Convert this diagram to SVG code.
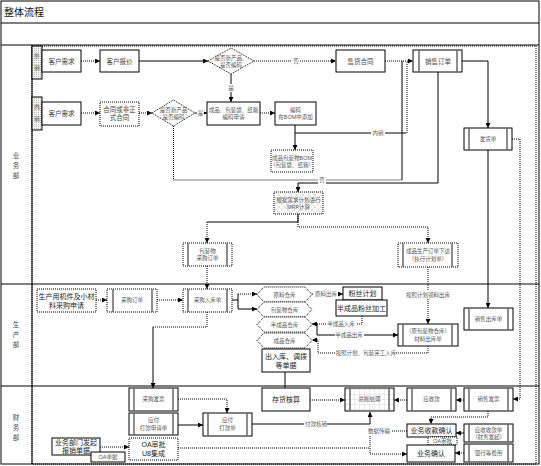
<svg xmlns="http://www.w3.org/2000/svg" width="541" height="466" viewBox="0 0 541 466">
<style>
text{font-family:"Liberation Sans","Noto Sans CJK SC",sans-serif;text-anchor:middle}
.n{fill:#fff;stroke:#000;stroke-width:1}
.nd{fill:#fff;stroke:#000;stroke-width:1;stroke-dasharray:1 1}
.in{stroke:#666;stroke-width:1.5}
.t{font-size:5.5px;fill:#555}
.tm{font-size:6.5px;fill:#444}
.tb{font-size:7px;fill:#222}
.c{fill:none;stroke:#000;stroke-width:1}
.d{stroke-dasharray:1 1}
.lb{font-size:5.5px;fill:#555}
.bg{fill:#fff}
.ln{stroke:#000;stroke-width:1;fill:none}
</style>
<defs>
<marker id="a" markerWidth="5" markerHeight="5" refX="5" refY="2.5" orient="auto" markerUnits="userSpaceOnUse"><path d="M0,0 L5,2.5 L0,5 Z" fill="#000"/></marker>
<pattern id="xh" width="6" height="6" patternUnits="userSpaceOnUse"><rect width="6" height="6" fill="#fff"/><path d="M0,0 L6,6 M6,0 L0,6" stroke="#ccc" stroke-width="0.6"/></pattern>
<pattern id="grid" width="5" height="5" patternUnits="userSpaceOnUse"><rect width="5" height="5" fill="#fff"/><path d="M5,0 V5 M0,5 H5" stroke="#bbb" stroke-width="0.6" fill="none"/></pattern>
<pattern id="dots" width="2" height="2" patternUnits="userSpaceOnUse"><rect width="2" height="2" fill="#f2f2f2"/><rect width="1" height="1" fill="#bbb"/></pattern>
</defs>

<g id="frame">
<rect x="1" y="1" width="538" height="463" class="ln"/>
<line x1="1" y1="23" x2="539" y2="23" class="ln" stroke-width="1.3"/>
<line x1="1" y1="45" x2="539" y2="45" class="ln"/>
<text x="4" y="16" style="font-size:10px;fill:#111;text-anchor:start">整体流程</text>
<rect x="32" y="46" width="504" height="418" class="ln d"/>
<line x1="32" y1="45" x2="32" y2="464" class="ln"/>
<line x1="1" y1="284" x2="539" y2="284" class="ln"/>
<line x1="1" y1="386" x2="539" y2="386" class="ln"/>
<text class="tm"><tspan x="16" y="158">业</tspan><tspan x="16" y="168">务</tspan><tspan x="16" y="178">部</tspan></text>
<text class="tm"><tspan x="16" y="327">生</tspan><tspan x="16" y="337">产</tspan><tspan x="16" y="347">部</tspan></text>
<text class="tm"><tspan x="16" y="420">财</tspan><tspan x="16" y="430">务</tspan><tspan x="16" y="440">部</tspan></text>
<rect x="32" y="46" width="10" height="33" fill="url(#dots)" stroke="#000"/>
<text class="t"><tspan x="37" y="58">外</tspan><tspan x="37" y="70">销</tspan></text>
<rect x="32" y="97" width="10" height="33" fill="url(#dots)" stroke="#000"/>
<text class="t"><tspan x="37" y="109">内</tspan><tspan x="37" y="121">销</tspan></text>
</g>

<g id="connectors">
<path class="c d" d="M81,61 H100" marker-end="url(#a)"/>
<path class="c" d="M139,61 H208" marker-end="url(#a)"/>
<path class="c d" d="M254,61 H336" marker-end="url(#a)"/>
<path class="c d" d="M385,61 H413" marker-end="url(#a)"/>
<path class="c" d="M231,74 V102" marker-end="url(#a)"/>
<path class="c d" d="M81,113 H100" marker-end="url(#a)"/>
<path class="c d" d="M139,113 H152" marker-end="url(#a)"/>
<path class="c" d="M195,113 H207" marker-end="url(#a)"/>
<path class="c d" d="M260,113 H275" marker-end="url(#a)"/>
<path class="c" d="M295,125 V150" marker-end="url(#a)"/>
<path class="c" d="M295,133 H405"/>
<path class="c d" d="M405,133 H407 V62"/>
<path class="c d" d="M173.5,126 V180 H402"/>
<path class="c" d="M402,180 V61"/>
<path class="c" d="M438,72 V183 H298 V192" marker-end="url(#a)"/>
<path class="c" d="M462,61 H488 V128" marker-end="url(#a)"/>
<path class="c d" d="M512,139 H520 V399 H513" marker-end="url(#a)"/>
<path class="c" d="M488,150 V308" marker-end="url(#a)"/>
<path class="c" d="M298,214 V222 H207"/>
<path class="c d" d="M207,222 V243" marker-end="url(#a)"/>
<path class="c d" d="M298,214 V227 H428 V243" marker-end="url(#a)"/>
<path class="c d" d="M96,300 H107" marker-end="url(#a)"/>
<path class="c d" d="M157,300 H183" marker-end="url(#a)"/>
<path class="c d" d="M207,266 V289" marker-end="url(#a)"/>
<path class="c" d="M232,300 H238 M238,294 V309"/>
<path class="c d" d="M238,294 H257" marker-end="url(#a)"/>
<path class="c" d="M238,309 H257" marker-end="url(#a)"/>
<path class="c d" d="M207,312 V327 H153"/>
<path class="c" d="M153,327 V388" marker-end="url(#a)"/>
<path class="c d" d="M312,294 H343" marker-end="url(#a)"/>
<path class="c d" d="M362,316 V324 H312" marker-end="url(#a)"/>
<path class="c" d="M312,324 H317 V335 H398" marker-end="url(#a)"/>
<path class="c d" d="M428,346 V353 H318 V340 H312" marker-end="url(#a)"/>
<path class="c d" d="M428,267 V324" marker-end="url(#a)"/>
<path class="c" d="M285,372 V388"/>
<path class="c d" d="M310,400 H345" marker-end="url(#a)"/>
<path class="c d" d="M407,400 H394" marker-end="url(#a)"/>
<path class="c d" d="M464,400 H456" marker-end="url(#a)"/>
<path class="c d" d="M488,411 V417 H431 V424" marker-end="url(#a)"/>
<path class="c d" d="M178,399 H227 V413" marker-end="url(#a)"/>
<path class="c" d="M178,425 H203" marker-end="url(#a)"/>
<path class="c" d="M252,424 H370"/>
<path class="c" stroke-width="2" d="M370,424 V412" marker-end="url(#a)"/>
<path class="c d" d="M407,431 H370 V454 H407" marker-end="url(#a)"/>
<path class="c d" d="M178,448 H370"/>
<path class="c" d="M464,433 H456" marker-end="url(#a)"/>
<path class="c d" d="M464,453 H455" marker-end="url(#a)"/>
<path class="c d" d="M100,447 H129" marker-end="url(#a)"/>
<rect x="292" y="57" width="8" height="8" class="bg"/><text x="296" y="63" class="lb">否</text>
<rect x="227" y="84" width="8" height="8" class="bg"/><text x="231" y="90" class="lb">是</text>
<rect x="197" y="109" width="7" height="8" class="bg"/><text x="200.5" y="115" class="lb">是</text>
<rect x="371" y="129" width="14" height="8" class="bg"/><text x="378" y="135" class="lb">内销</text>
<rect x="318" y="176" width="8" height="8" class="bg"/><text x="322" y="182" class="lb">否</text>
<rect x="314" y="290" width="24" height="8" class="bg"/><text x="326" y="296" class="lb">原料出库</text>
<rect x="327" y="320" width="29" height="8" class="bg"/><text x="341" y="326" class="lb">半成品入库</text>
<rect x="335" y="331" width="29" height="8" class="bg"/><text x="349" y="337" class="lb">半成品出库</text>
<rect x="336" y="349" width="60" height="8" class="bg"/><text x="366" y="355" class="lb">按照计划、包装完工入库</text>
<rect x="404" y="291" width="48" height="8" class="bg"/><text x="428" y="297" class="lb">按照计划领料出库</text>
<rect x="304" y="420" width="23" height="8" class="bg"/><text x="316" y="426" class="lb">付款核销</text>
<rect x="368" y="427" width="23" height="8" class="bg"/><text x="379" y="433" class="lb">数据传输</text>
</g>

<g id="n-wx-req"><rect x="42" y="50" width="39" height="22" class="n"/><text x="61.5" y="63.5" class="tm">客户需求</text></g>
<g id="n-quote"><rect x="100" y="50" width="39" height="22" class="n"/><text x="119.5" y="63.5" class="tm">客户报价</text></g>
<g id="n-d1"><path d="M208,61 L231,48 L254,61 L231,74 Z" class="nd"/><text class="t"><tspan x="231" y="60">是否新产品、</tspan><tspan x="231" y="67">是否编码</tspan></text></g>
<g id="n-contract"><rect x="336" y="50" width="49" height="22" class="n"/><text x="360.5" y="63.5" class="tm">售货合同</text></g>
<g id="n-so"><rect x="413" y="50" width="49" height="22" class="n"/><line x1="419" y1="50" x2="419" y2="72" class="in"/><line x1="457" y1="50" x2="457" y2="72" class="in"/><text x="438" y="63.5" class="tm">销售订单</text></g>
<g id="n-nx-req"><rect x="42" y="102" width="39" height="23" class="n"/><text x="61.5" y="115.5" class="tm">客户需求</text></g>
<g id="n-formal"><rect x="100" y="102" width="39" height="24" class="nd"/><text class="tm"><tspan x="119.5" y="112">合同或非正</tspan><tspan x="119.5" y="120">式合同</tspan></text></g>
<g id="n-d2"><path d="M152,113 L173.5,100 L195,113 L173.5,126 Z" class="nd"/><text class="t"><tspan x="173.5" y="112">是否新产品</tspan><tspan x="173.5" y="119">是否编码</tspan></text></g>
<g id="n-code-req"><rect x="207" y="102" width="53" height="23" class="n"/><text class="t"><tspan x="233.5" y="112">成品、包装袋、纸箱</tspan><tspan x="233.5" y="119">编码申请</tspan></text></g>
<g id="n-code"><rect x="275" y="102" width="41" height="23" class="n"/><text class="t"><tspan x="295.5" y="112">编码</tspan><tspan x="295.5" y="119">在BOM中添加</tspan></text></g>
<g id="n-bom"><rect x="271" y="150" width="42" height="22" class="nd"/><text class="t"><tspan x="292" y="160">成品包装物BOM</tspan><tspan x="292" y="167">（包装袋、纸箱）</tspan></text></g>
<g id="n-ship"><rect x="464" y="128" width="48" height="22" class="n"/><line x1="469" y1="128" x2="469" y2="150" class="in"/><line x1="507" y1="128" x2="507" y2="150" class="in"/><text x="488" y="141" class="t">发货单</text></g>
<g id="n-mrp"><rect x="274" y="192" width="49" height="22" fill="url(#xh)" stroke="#000" stroke-dasharray="1 1"/><text class="t"><tspan x="298.5" y="202">根据需求计划进行</tspan><tspan x="298.5" y="209">MRP计算</tspan></text></g>
<g id="n-pkg-po"><rect x="183" y="243" width="49" height="23" class="nd"/><line x1="188" y1="243" x2="188" y2="266" class="in"/><line x1="227" y1="243" x2="227" y2="266" class="in"/><text class="t"><tspan x="207.5" y="253">包装物</tspan><tspan x="207.5" y="260">采购订单</tspan></text></g>
<g id="n-prod-order"><rect x="398" y="243" width="60" height="24" class="nd"/><line x1="403" y1="243" x2="403" y2="267" class="in"/><line x1="452" y1="243" x2="452" y2="267" class="in"/><text class="t"><tspan x="428" y="253">成品生产订单下达</tspan><tspan x="428" y="261">（执行计划单）</tspan></text></g>
<g id="n-apply"><rect x="37" y="289" width="59" height="23" class="nd"/><text class="tb"><tspan x="66.5" y="299">生产用机件及小材</tspan><tspan x="66.5" y="308">料采购申请</tspan></text></g>
<g id="n-po"><rect x="107" y="289" width="50" height="23" class="nd"/><line x1="113" y1="289" x2="113" y2="312" class="in"/><line x1="152" y1="289" x2="152" y2="312" class="in"/><text x="132" y="302" class="t">采购订单</text></g>
<g id="n-in"><rect x="183" y="289" width="49" height="23" class="nd"/><line x1="188" y1="289" x2="188" y2="312" class="in"/><line x1="227" y1="289" x2="227" y2="312" class="in"/><text x="207.5" y="302" class="t">采购入库单</text></g>
<g id="n-raw"><path d="M257,294.5 L264,287 L305,287 L312,294.5 L305,302 L264,302 Z" class="nd"/><text x="284.5" y="296.5" class="t">原料仓库</text></g>
<g id="n-pkg-wh"><path d="M257,309.5 L264,302 L305,302 L312,309.5 L305,317 L264,317 Z" class="nd"/><text x="284.5" y="311.5" class="t">包装物仓库</text></g>
<g id="n-semi-wh"><path d="M257,324.5 L264,317 L305,317 L312,324.5 L305,332 L264,332 Z" class="nd"/><text x="284.5" y="326.5" class="t">半成品仓库</text></g>
<g id="n-fg-wh"><path d="M257,340.5 L264,333 L305,333 L312,340.5 L305,348 L264,348 Z" class="nd"/><text x="284.5" y="342.5" class="t">成品仓库</text></g>
<g id="n-plan"><rect x="343" y="287" width="39" height="13" class="n"/><text x="362.5" y="296" class="tb">粉丝计划</text></g>
<g id="n-semi"><rect x="336" y="300" width="51" height="16" class="n"/><text x="361.5" y="310.5" class="tb">半成品粉丝加工</text></g>
<g id="n-mat-out"><rect x="398" y="324" width="60" height="22" class="n"/><line x1="403" y1="324" x2="403" y2="346" class="in"/><line x1="452" y1="324" x2="452" y2="346" class="in"/><text class="t"><tspan x="428" y="333">（原包装物仓库）</tspan><tspan x="428" y="341">材料出库单</tspan></text></g>
<g id="n-sale-out"><rect x="464" y="308" width="49" height="22" class="n"/><line x1="469" y1="308" x2="469" y2="330" class="in"/><line x1="508" y1="308" x2="508" y2="330" class="in"/><text x="488.5" y="321" class="t">销售出库单</text></g>
<g id="n-docs"><rect x="262" y="349" width="48" height="23" class="n"/><text class="tb"><tspan x="286" y="359">出入库、调拨</tspan><tspan x="286" y="368">等单据</tspan></text></g>
<g id="n-pur-inv"><rect x="129" y="388" width="49" height="23" class="n"/><line x1="134" y1="388" x2="134" y2="411" class="in"/><line x1="173" y1="388" x2="173" y2="411" class="in"/><text x="153.5" y="401" class="t">采购发票</text></g>
<g id="n-pay-req"><rect x="129" y="413" width="49" height="22" class="n"/><line x1="134" y1="413" x2="134" y2="435" class="in"/><line x1="173" y1="413" x2="173" y2="435" class="in"/><text class="t"><tspan x="153.5" y="422">应付</tspan><tspan x="153.5" y="430">打款申请单</tspan></text></g>
<g id="n-oa-u8"><rect x="129" y="438" width="49" height="22" class="nd"/><text class="tb"><tspan x="153.5" y="447">OA审批</tspan><tspan x="153.5" y="456">U8集成</tspan></text></g>
<g id="n-reimb"><rect x="52" y="438" width="48" height="17" class="n"/><text class="tb"><tspan x="76" y="445">业务部门发起</tspan><tspan x="76" y="453">报销单据</tspan></text></g>
<g id="n-oa-doc"><rect x="91" y="452" width="34" height="10" class="n"/><text x="108" y="459" class="t">OA单据</text></g>
<g id="n-pay"><rect x="203" y="413" width="49" height="23" class="n"/><line x1="208" y1="413" x2="208" y2="436" class="in"/><line x1="247" y1="413" x2="247" y2="436" class="in"/><text class="t"><tspan x="227.5" y="422">应付</tspan><tspan x="227.5" y="430">打款单</tspan></text></g>
<g id="n-inv"><rect x="262" y="388" width="48" height="23" class="n"/><text x="286" y="402" class="tb">存货核算</text></g>
<g id="n-gl"><rect x="345" y="388" width="49" height="23" fill="url(#grid)" stroke="#000"/><line x1="350" y1="388" x2="350" y2="411" class="in"/><line x1="389" y1="388" x2="389" y2="411" class="in"/><text x="369.5" y="401" class="t">总账处理</text></g>
<g id="n-ar"><rect x="407" y="388" width="49" height="23" class="n"/><line x1="412" y1="388" x2="412" y2="411" class="in"/><line x1="451" y1="388" x2="451" y2="411" class="in"/><text x="431.5" y="401" class="t">应收款</text></g>
<g id="n-sale-inv"><rect x="464" y="388" width="49" height="23" class="n"/><line x1="469" y1="388" x2="469" y2="411" class="in"/><line x1="508" y1="388" x2="508" y2="411" class="in"/><text x="488.5" y="401" class="t">销售发票</text></g>
<g id="n-collect"><rect x="407" y="424" width="49" height="13" class="n"/><text x="431.5" y="433" class="tb">业务收款确认</text></g>
<g id="n-oa2"><rect x="428" y="437" width="29" height="8" class="nd"/><text x="442.5" y="443" class="t">OA审批</text></g>
<g id="n-confirm"><rect x="407" y="445" width="48" height="17" class="n"/><text x="431" y="456" class="tb">业务确认</text></g>
<g id="n-ar-bill"><rect x="464" y="424" width="49" height="18" class="n"/><line x1="469" y1="424" x2="469" y2="442" class="in"/><line x1="508" y1="424" x2="508" y2="442" class="in"/><text class="t"><tspan x="488.5" y="432">应收收款单</tspan><tspan x="488.5" y="439">（财务发起）</tspan></text></g>
<g id="n-bank"><rect x="464" y="444" width="49" height="18" class="n"/><line x1="469" y1="444" x2="469" y2="462" class="in"/><line x1="508" y1="444" x2="508" y2="462" class="in"/><text x="488.5" y="455" class="t">银行等费用</text></g>
</svg>
